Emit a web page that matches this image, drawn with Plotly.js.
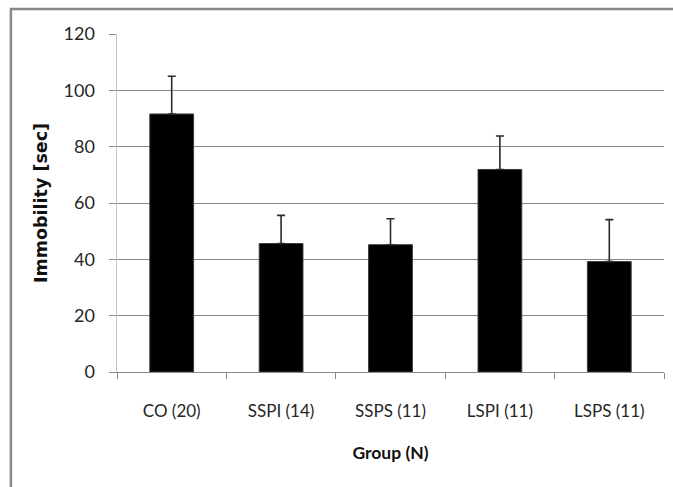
<!DOCTYPE html>
<html>
<head>
<meta charset="utf-8">
<script src="https://cdn.plot.ly/plotly-3.0.1.min.js"></script>
<style>
  html, body { margin: 0; padding: 0; background: #ffffff; }
  #chart { width: 673px; height: 487px; }
</style>
</head>
<body>
<div id="chart"></div>
<script>
// Immobility time per group, mean with upper standard-error whisker
const groups = ["CO (20)", "SSPI (14)", "SSPS (11)", "LSPI (11)", "LSPS (11)"];
const immobility = [91.6, 45.6, 45.2, 71.9, 39.2];
const errorPlus = [13.4, 10.0, 9.2, 11.9, 14.9];
const yTicks = [0, 20, 40, 60, 80, 100, 120];

const labelFont = "Lato, 'Open Sans', sans-serif";

const trace = {
  type: "bar",
  x: groups,
  y: immobility,
  width: 0.4,
  marker: { color: "#000000", line: { color: "#3a3a3a", width: 1 } },
  error_y: {
    type: "data",
    symmetric: false,
    array: errorPlus,
    arrayminus: errorPlus.map(() => 0),
    color: "#2a2a2a",
    thickness: 1.6,
    width: 4
  },
  hoverinfo: "x+y"
};

const layout = {
  width: 673,
  height: 487,
  margin: { l: 117, r: 9, t: 34, b: 115 },
  paper_bgcolor: "#ffffff",
  plot_bgcolor: "#ffffff",
  showlegend: false,
  font: { family: labelFont, color: "#262626" },
  xaxis: {
    type: "category",
    showgrid: false,
    zeroline: false,
    showline: true,
    linecolor: "#8a8a8a",
    linewidth: 1,
    ticks: "outside",
    tickson: "boundaries",
    ticklen: 6,
    tickcolor: "#8a8a8a",
    tickwidth: 1,
    ticklabelstandoff: 24,
    tickfont: { size: 17, family: labelFont, color: "#262626" },
    title: {
      text: "Group (N)",
      standoff: 26,
      font: { size: 17.5, family: labelFont, color: "#111111", weight: "bold" }
    }
  },
  yaxis: {
    range: [0, 120],
    tickvals: yTicks,
    ticktext: yTicks.map(String),
    showgrid: true,
    gridcolor: "#8a8a8a",
    gridwidth: 1,
    zeroline: false,
    showline: true,
    linecolor: "#c4c4c4",
    linewidth: 1.5,
    ticks: "outside",
    ticklen: 7,
    tickcolor: "#8a8a8a",
    tickwidth: 1,
    ticklabelstandoff: 10,
    tickfont: { size: 18, family: labelFont, color: "#262626" },
    title: {
      text: "Immobility [sec]",
      standoff: 11,
      font: { size: 17.5, family: "'DejaVu Sans', sans-serif", color: "#111111", weight: "bold" }
    }
  },
  shapes: [
    {
      type: "rect",
      xref: "paper",
      yref: "paper",
      x0: -0.194, x1: 1.3,
      y0: -0.6, y1: 1.074,
      line: { color: "#888888", width: 2.5 },
      fillcolor: "rgba(0,0,0,0)",
      layer: "below"
    }
  ]
};

Plotly.newPlot("chart", [trace], layout, { displayModeBar: false, staticPlot: true });
</script>
</body>
</html>
